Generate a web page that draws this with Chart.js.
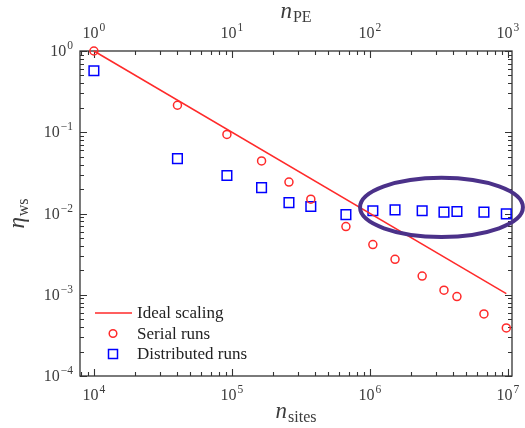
<!DOCTYPE html>
<html lang="en">
<head>
<meta charset="UTF-8">
<title>Weak scaling efficiency</title>
<script src="https://cdn.jsdelivr.net/npm/chart.js"></script>
<style>
  html, body { margin: 0; padding: 0; background: #fff; }
  #plot { display: block; }
</style>
</head>
<body>
<canvas id="plot" width="525" height="428"></canvas>
<script>
// run sizes (number of sites) and efficiencies
const nSites = [1e4, 4.03e4, 9.2e4, 1.64e5, 2.59e5, 3.73e5, 6.7e5, 1.05e6, 1.52e6, 2.39e6, 3.44e6, 4.27e6, 6.7e6, 9.73e6];
const serialEta = [1.0, 0.215, 0.094, 0.0443, 0.0244, 0.0150, 0.0069, 0.00414, 0.00273, 0.0017, 0.00114, 0.00095, 0.00058, 0.00039];
const distributedEta = [0.571, 0.0473, 0.0294, 0.0208, 0.0136, 0.0122, 0.0097, 0.0108, 0.0111, 0.0108, 0.0104, 0.0106, 0.0104, 0.0099];
const idealSites = [1e4, 9.73e6];
const idealEta = [1, 1.03e-3];

// axis decades and labels
const xDecades = [1e4, 1e5, 1e6, 1e7];
const xTickLabels = ['4', '5', '6', '7'];
const peDecades = [1, 10, 100, 1000];
const peTickLabels = ['0', '1', '2', '3'];
const yDecades = [1e-4, 1e-3, 1e-2, 1e-1, 1];
const yTickLabels = ['\u22124', '\u22123', '\u22122', '\u22121', '0'];
const sitesPerPE = 1e4;

// highlighted plateau (centre in data units, half-widths in decades)
const plateauCentre = [3.3e6, 0.0119];
const plateauHalf = [0.59, 0.364];

const legendLabels = ['Ideal scaling', 'Serial runs', 'Distributed runs'];

const RED = '#ff2a2a';
const BLUE = '#0000ff';
const INK = '#333333';
const LABEL = '#3c3c3c';
const SERIF = '"Liberation Serif", "DejaVu Serif", serif';

const xMin = 7930, xMax = 1.07e7;

function logTicks(min, max) {
  const out = [];
  for (let k = Math.floor(Math.log10(min)); k <= Math.ceil(Math.log10(max)); k++) {
    for (let m = 1; m <= 9; m++) {
      const v = m * Math.pow(10, k);
      if (v >= min * 0.9999 && v <= max * 1.0001) out.push({ v: v, major: m === 1 });
    }
  }
  return out;
}

function drawPower(ctx, exp, x, y, align) {
  ctx.font = '16px ' + SERIF;
  const wb = ctx.measureText('10').width;
  ctx.font = '11.5px ' + SERIF;
  const we = ctx.measureText(exp).width;
  const total = wb + we + 1;
  const x0 = align === 'right' ? x - total : x - total / 2;
  ctx.textAlign = 'left';
  ctx.textBaseline = 'alphabetic';
  ctx.font = '16px ' + SERIF;
  ctx.fillText('10', x0, y);
  ctx.font = '11.5px ' + SERIF;
  ctx.fillText(exp, x0 + wb + 1, y - 7);
}

function drawSubscripted(ctx, main, sub, cx, y, mainFont, subFont, drop) {
  ctx.font = mainFont;
  const wm = ctx.measureText(main).width;
  ctx.font = subFont;
  const ws = ctx.measureText(sub).width;
  const x0 = cx - (wm + ws + 1) / 2;
  ctx.textAlign = 'left';
  ctx.textBaseline = 'alphabetic';
  ctx.font = mainFont;
  ctx.fillText(main, x0, y);
  ctx.font = subFont;
  ctx.fillText(sub, x0 + wm + 1, y + drop);
}

const framePlugin = {
  id: 'frame',
  beforeDatasetsDraw(chart) {
    const ctx = chart.ctx;
    const a = chart.chartArea;
    const x = chart.scales.x, x2 = chart.scales.x2, y = chart.scales.y;
    ctx.save();
    ctx.strokeStyle = INK;
    ctx.lineWidth = 1.3;
    ctx.strokeRect(a.left, a.top, a.right - a.left, a.bottom - a.top);

    ctx.lineWidth = 1.1;
    ctx.beginPath();
    logTicks(xMin, xMax).forEach(t => {
      const px = Math.round(x.getPixelForValue(t.v)) + 0.5;
      const len = t.major ? 7 : 4;
      ctx.moveTo(px, a.bottom); ctx.lineTo(px, a.bottom - len);
    });
    logTicks(xMin / sitesPerPE, xMax / sitesPerPE).forEach(t => {
      const px = Math.round(x2.getPixelForValue(t.v)) + 0.5;
      const len = t.major ? 7 : 4;
      ctx.moveTo(px, a.top); ctx.lineTo(px, a.top + len);
    });
    logTicks(1e-4, 1).forEach(t => {
      const py = Math.round(y.getPixelForValue(t.v)) + 0.5;
      const len = t.major ? 7 : 4;
      ctx.moveTo(a.left, py); ctx.lineTo(a.left + len, py);
      ctx.moveTo(a.right, py); ctx.lineTo(a.right - len, py);
    });
    ctx.stroke();

    ctx.fillStyle = LABEL;
    xDecades.forEach((v, i) => drawPower(ctx, xTickLabels[i], x.getPixelForValue(v), a.bottom + 24, 'center'));
    peDecades.forEach((v, i) => drawPower(ctx, peTickLabels[i], x2.getPixelForValue(v), a.top - 13, 'center'));
    yDecades.forEach((v, i) => drawPower(ctx, yTickLabels[i], a.left - 7, y.getPixelForValue(v) + 5, 'right'));

    const midX = (a.left + a.right) / 2;
    const midY = (a.top + a.bottom) / 2;
    drawSubscripted(ctx, 'n', 'PE', midX, 18, 'italic 23px ' + SERIF, '16px ' + SERIF, 4);
    drawSubscripted(ctx, 'n', 'sites', midX, 418, 'italic 23px ' + SERIF, '16px ' + SERIF, 4);
    ctx.translate(24, midY);
    ctx.rotate(-Math.PI / 2);
    drawSubscripted(ctx, '\u03b7', 'ws', 0, 0, 'italic 23px ' + SERIF, '16px ' + SERIF, 4);
    ctx.restore();
  },
  afterDatasetsDraw(chart) {
    const ctx = chart.ctx;
    const x = chart.scales.x, y = chart.scales.y;
    ctx.save();

    // plateau marker
    const cx = x.getPixelForValue(plateauCentre[0]);
    const cy = y.getPixelForValue(plateauCentre[1]);
    const rx = x.getPixelForValue(plateauCentre[0] * Math.pow(10, plateauHalf[0])) - cx;
    const ry = cy - y.getPixelForValue(plateauCentre[1] * Math.pow(10, plateauHalf[1]));
    ctx.strokeStyle = '#4b3189';
    ctx.lineWidth = 4;
    ctx.beginPath();
    ctx.ellipse(cx, cy, rx, ry, 0, 0, Math.PI * 2);
    ctx.stroke();

    // legend
    const lx = 95, tx = 137, rows = [313, 333.5, 354];
    ctx.strokeStyle = RED;
    ctx.lineWidth = 1.5;
    ctx.beginPath();
    ctx.moveTo(lx, rows[0]); ctx.lineTo(132, rows[0]);
    ctx.stroke();
    ctx.beginPath();
    ctx.arc(113, rows[1], 3.8, 0, Math.PI * 2);
    ctx.stroke();
    ctx.strokeStyle = BLUE;
    ctx.strokeRect(108.5, rows[2] - 4.5, 9, 9);
    ctx.fillStyle = '#222';
    ctx.font = '17px ' + SERIF;
    ctx.textAlign = 'left';
    ctx.textBaseline = 'middle';
    legendLabels.forEach((t, i) => ctx.fillText(t, tx, rows[i] + 1));
    ctx.restore();
  }
};

new Chart(document.getElementById('plot'), {
  type: 'scatter',
  data: {
    datasets: [{
      label: legendLabels[0],
      data: idealSites.map((v, i) => ({ x: v, y: idealEta[i] })),
      showLine: true,
      borderColor: RED,
      borderWidth: 1.5,
      pointRadius: 0,
      clip: false
    }, {
      label: legendLabels[1],
      data: nSites.map((v, i) => ({ x: v, y: serialEta[i] })),
      pointStyle: 'circle',
      pointRadius: 4,
      borderColor: RED,
      borderWidth: 1.5,
      backgroundColor: 'rgba(0,0,0,0)',
      clip: false
    }, {
      label: legendLabels[2],
      data: nSites.map((v, i) => ({ x: v, y: distributedEta[i] })),
      pointStyle: 'rect',
      pointRadius: 6.8,
      borderColor: BLUE,
      borderWidth: 1.5,
      backgroundColor: 'rgba(0,0,0,0)',
      clip: false
    }]
  },
  options: {
    responsive: false,
    animation: false,
    layout: { padding: { left: 80, right: 13, top: 51, bottom: 52 } },
    plugins: { legend: { display: false }, tooltip: { enabled: false } },
    scales: {
      x: { type: 'logarithmic', min: xMin, max: xMax, display: false },
      x2: { type: 'logarithmic', axis: 'x', position: 'top', min: xMin / sitesPerPE, max: xMax / sitesPerPE, display: false },
      y: { type: 'logarithmic', min: 1e-4, max: 1, display: false }
    }
  },
  plugins: [framePlugin]
});
</script>
</body>
</html>
